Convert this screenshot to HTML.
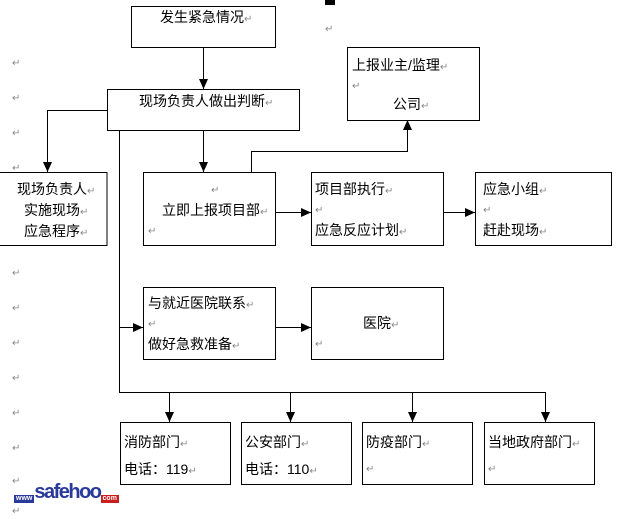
<!DOCTYPE html>
<html><head><meta charset="utf-8"><style>
body{margin:0;width:620px;height:513px;background:#fff;position:relative;overflow:hidden;font-family:"Liberation Sans","Noto Sans CJK SC","WenQuanYi Zen Hei",sans-serif;}
.t{position:absolute;font-size:14px;line-height:15px;color:#000;white-space:nowrap;}
.r{color:#888;font-size:10px;}
svg{position:absolute;left:0;top:0;}
</style></head><body>
<svg width="620" height="513">
<defs><marker id="a" markerWidth="12" markerHeight="12" refX="10" refY="4.5" orient="auto" markerUnits="userSpaceOnUse"><path d="M0,0 L10,4.5 L0,9z" fill="#000"/></marker></defs>
<g fill="none" stroke="#000" stroke-width="1">
<rect x="131.5" y="6.5" width="144" height="41"/>
<rect x="107.5" y="89.5" width="192" height="41"/>
<rect x="-1" y="172.5" width="108" height="73"/>
<rect x="143.5" y="172.5" width="132" height="73"/>
<rect x="311.5" y="172.5" width="132" height="73"/>
<rect x="475.5" y="172.5" width="136" height="73"/>
<rect x="347.5" y="47.5" width="132" height="73"/>
<rect x="143.5" y="287.5" width="132" height="72"/>
<rect x="311.5" y="287.5" width="132" height="72"/>
<rect x="120.5" y="422.5" width="110" height="62"/>
<rect x="241.5" y="422.5" width="110" height="62"/>
<rect x="362.5" y="422.5" width="110" height="62"/>
<rect x="484.5" y="422.5" width="110" height="62"/>
<path d="M203.5 47V89" marker-end="url(#a)"/>
<path d="M107 110.5H47.5V172" marker-end="url(#a)"/>
<path d="M203.5 130V172" marker-end="url(#a)"/>
<path d="M119.5 130V392.5"/>
<path d="M119.5 327.5H143" marker-end="url(#a)"/>
<path d="M119 392.5H545.5"/>
<path d="M169.5 392V422" marker-end="url(#a)"/>
<path d="M290.5 392V422" marker-end="url(#a)"/>
<path d="M412.5 392V422" marker-end="url(#a)"/>
<path d="M545.5 392V422" marker-end="url(#a)"/>
<path d="M275 212.5H311" marker-end="url(#a)"/>
<path d="M443 212.5H475" marker-end="url(#a)"/>
<path d="M275 327.5H311" marker-end="url(#a)"/>
<path d="M251.5 172V151.5H407.5V120" marker-end="url(#a)"/>
</g>
<rect x="325" y="0" width="10" height="5" fill="#000"/>
</svg>
<div class="t" style="left:160px;top:10px">发生紧急情况<span class="r">↵</span></div>
<div class="t" style="left:139px;top:94px">现场负责人做出判断<span class="r">↵</span></div>
<div class="t" style="left:17px;top:182px">现场负责人<span class="r">↵</span></div>
<div class="t" style="left:24px;top:203px">实施现场<span class="r">↵</span></div>
<div class="t" style="left:24px;top:224px">应急程序<span class="r">↵</span></div>
<div class="t r" style="left:211px;top:183px">↵</div>
<div class="t" style="left:162px;top:203px">立即上报项目部<span class="r">↵</span></div>
<div class="t r" style="left:148px;top:224px">↵</div>
<div class="t" style="left:315px;top:182px">项目部执行<span class="r">↵</span></div>
<div class="t r" style="left:315px;top:203px">↵</div>
<div class="t" style="left:315px;top:223px">应急反应计划<span class="r">↵</span></div>
<div class="t" style="left:483px;top:182px">应急小组<span class="r">↵</span></div>
<div class="t r" style="left:483px;top:203px">↵</div>
<div class="t" style="left:483px;top:223px">赶赴现场<span class="r">↵</span></div>
<div class="t" style="left:352px;top:58px">上报业主/监理<span class="r">↵</span></div>
<div class="t r" style="left:352px;top:79px">↵</div>
<div class="t" style="left:393px;top:97px">公司<span class="r">↵</span></div>
<div class="t" style="left:148px;top:296px">与就近医院联系<span class="r">↵</span></div>
<div class="t r" style="left:148px;top:317px">↵</div>
<div class="t" style="left:148px;top:337px">做好急救准备<span class="r">↵</span></div>
<div class="t" style="left:363px;top:316px">医院<span class="r">↵</span></div>
<div class="t r" style="left:315px;top:337px">↵</div>
<div class="t" style="left:124px;top:435px">消防部门<span class="r">↵</span></div>
<div class="t" style="left:124px;top:462px">电话：119<span class="r">↵</span></div>
<div class="t" style="left:245px;top:435px">公安部门<span class="r">↵</span></div>
<div class="t" style="left:245px;top:462px">电话：110<span class="r">↵</span></div>
<div class="t" style="left:366px;top:435px">防疫部门<span class="r">↵</span></div>
<div class="t r" style="left:366px;top:462px">↵</div>
<div class="t" style="left:488px;top:435px">当地政府部门<span class="r">↵</span></div>
<div class="t r" style="left:488px;top:462px">↵</div>
<div class="t r" style="left:12px;top:56px">↵</div>
<div class="t r" style="left:12px;top:91px">↵</div>
<div class="t r" style="left:12px;top:126px">↵</div>
<div class="t r" style="left:12px;top:161px">↵</div>
<div class="t r" style="left:12px;top:266px">↵</div>
<div class="t r" style="left:12px;top:301px">↵</div>
<div class="t r" style="left:12px;top:336px">↵</div>
<div class="t r" style="left:12px;top:371px">↵</div>
<div class="t r" style="left:12px;top:406px">↵</div>
<div class="t r" style="left:12px;top:441px">↵</div>
<div class="t r" style="left:12px;top:474px">↵</div>
<div class="t r" style="left:12px;top:504px">↵</div>
<div class="t r" style="left:325px;top:22px">↵</div>
<div style="position:absolute;left:14px;top:484px;height:16px;white-space:nowrap;font-family:'Liberation Sans',sans-serif;font-weight:bold;">
<span style="display:inline-block;background:#2a3a9a;color:#fff;font-size:7px;line-height:8px;vertical-align:bottom;padding:0 2px">www</span><span style="color:#2a3a9a;font-size:20px;line-height:16px;letter-spacing:-1.5px">safehoo</span><span style="display:inline-block;background:#c81e1e;color:#fff;font-size:7px;line-height:8px;vertical-align:bottom;padding:0 2px">com</span>
</div>
</body></html>
